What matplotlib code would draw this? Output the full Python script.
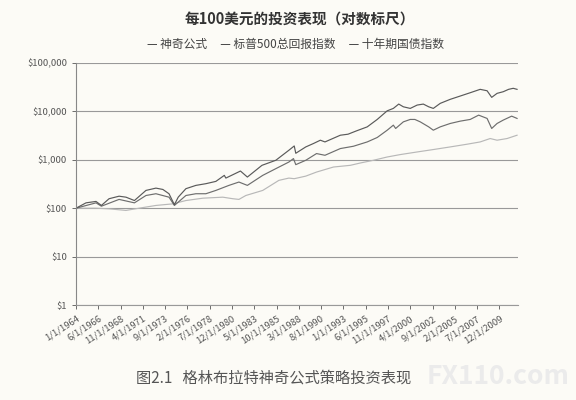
import matplotlib.pyplot as plt
import matplotlib.ticker as mticker
import numpy as np
import pandas as pd

plt.rcParams['font.family'] = ['Noto Sans CJK SC', 'DejaVu Sans']

# 数据 (读自原图, 每100美元的价值)
magic_dates = ["1964-01", "1965-02", "1966-03", "1966-10", "1967-08", "1968-09", "1969-06",
               "1970-05", "1970-10", "1971-08", "1972-09", "1973-06", "1974-02", "1974-09",
               "1975-02", "1975-12", "1977-01", "1978-02", "1979-03", "1980-02", "1980-04",
               "1981-11", "1982-08", "1984-03", "1985-09", "1987-02", "1987-09", "1987-11",
               "1988-12", "1989-10", "1990-07", "1991-01", "1992-09", "1993-07", "1994-06",
               "1995-08", "1996-09", "1997-10", "1998-06", "1999-01", "1999-07", "2000-04",
               "2001-01", "2001-09", "2002-04", "2002-10", "2003-07", "2004-08", "2005-09",
               "2006-10", "2007-11", "2008-08", "2009-02", "2009-09", "2010-05", "2010-12",
               "2011-06", "2011-11"]
magic_vals = [100, 129, 138, 114, 157, 177, 169,
              144, 169, 233, 260, 244, 199, 118,
              169, 253, 296, 321, 358, 477, 419,
              586, 440, 769, 977, 1574, 1932, 1364,
              1845, 2170, 2540, 2340, 3220, 3380, 3960,
              4790, 6820, 10280, 11530, 14170, 12450, 11530,
              13520, 14170, 12450, 11530, 14650, 17750, 20760,
              24300, 28560, 26700, 19500, 23600, 25500, 28560,
              30000, 28560]

sp_dates = ["1964-01", "1966-03", "1966-10", "1968-09", "1970-05", "1971-08", "1972-09",
            "1974-02", "1974-09", "1975-12", "1977-01", "1978-02", "1979-03", "1980-08",
            "1981-09", "1982-08", "1984-04", "1985-09", "1987-02", "1987-08", "1987-11",
            "1988-12", "1990-02", "1991-01", "1992-09", "1994-02", "1995-08", "1996-09",
            "1997-10", "1998-06", "1998-09", "1999-07", "2000-04", "2000-10", "2001-05",
            "2002-04", "2002-10", "2003-07", "2004-08", "2005-09", "2006-10", "2007-09",
            "2008-08", "2009-02", "2009-09", "2010-05", "2011-04", "2011-11"]
sp_vals = [100, 129, 110, 152, 129, 183, 199,
           169, 114, 183, 199, 199, 233, 296,
           347, 296, 477, 656, 899, 1059, 794,
           977, 1345, 1240, 1707, 1905, 2340, 2890,
           4090, 5200, 4440, 6080, 6820, 6820, 6080,
           4790, 4090, 4790, 5630, 6290, 6820, 8370,
           7160, 4440, 5630, 6610, 7980, 7160]

bond_dates = ["1964-01", "1966-03", "1967-08", "1969-06", "1970-11", "1972-09", "1974-07",
              "1975-12", "1977-10", "1979-12", "1981-01", "1981-09", "1982-06", "1984-04",
              "1986-01", "1987-02", "1987-09", "1988-12", "1990-02", "1991-12", "1993-10",
              "1994-11", "1996-04", "1997-10", "1999-03", "2001-01", "2002-10", "2004-08",
              "2006-06", "2007-11", "2008-12", "2009-09", "2010-10", "2011-11"]
bond_vals = [100, 100, 97, 90, 100, 114, 123,
             144, 161, 169, 157, 152, 183, 233,
             376, 419, 407, 460, 558, 709, 769,
             859, 977, 1143, 1282, 1452, 1629, 1845,
             2100, 2340, 2750, 2540, 2750, 3220]

tick_labels = ["1/1/1964", "6/1/1966", "11/1/1968", "4/1/1971", "9/1/1973", "2/1/1976",
               "7/1/1978", "12/1/1980", "5/1/1983", "10/1/1985", "3/1/1988", "8/1/1990",
               "1/1/1993", "6/1/1995", "11/1/1997", "4/1/2000", "9/1/2002", "2/1/2005",
               "7/1/2007", "12/1/2009"]
y_ticks = [1, 10, 100, 1000, 10000, 100000]


def month_index(dates):
    d = pd.to_datetime(dates)
    return (d.year - 1964) * 12 + (d.month - 1)


bg = '#fcfbf6'
fig = plt.figure(figsize=(5.76, 4.0), dpi=100, facecolor=bg)
ax = fig.add_axes([0.132, 0.2375, 0.767, 0.605], facecolor=bg)

ax.plot(month_index(bond_dates), bond_vals, color='#b8b8b8', lw=0.85)
ax.plot(month_index(sp_dates), sp_vals, color='#6e6e6e', lw=0.85)
ax.plot(month_index(magic_dates), magic_vals, color='#5a5a5a', lw=0.85)

ax.set_yscale('log')
ax.set_ylim(1, 100000)
ax.set_xlim(0, 575)
ax.set_yticks(y_ticks)
ax.yaxis.set_major_formatter(mticker.FuncFormatter(lambda v, p: f"${v:,.0f}"))
ax.yaxis.set_minor_locator(mticker.NullLocator())
for v in y_ticks:
    ax.axhline(v, color='#999999', lw=0.8, zorder=0)

tick_pos = month_index([pd.to_datetime(t).strftime("%Y-%m") for t in tick_labels])
ax.set_xticks(tick_pos)
ax.set_xticklabels(tick_labels, rotation=33, ha='right', rotation_mode='anchor')
ax.tick_params(axis='both', labelsize=6.8, colors='#555555', length=3, width=0.6)

for s in ['top', 'right']:
    ax.spines[s].set_visible(False)
ax.spines['left'].set_color('#888888')
ax.spines['bottom'].set_color('#999999')

fig.text(0.52, 0.952, "每100美元的投资表现（对数标尺）", ha='center', va='center',
         fontsize=10.5, color='#333333', fontweight='bold')
fig.text(0.513, 0.89, "— 神奇公式     — 标普500总回报指数     — 十年期国债指数",
         ha='center', va='center', fontsize=8.5, color='#444444')
fig.text(0.865, 0.058, "FX110.com", ha='center', va='center', fontsize=19,
         color='#ebebeb', fontweight='bold', zorder=0)
fig.text(0.236, 0.055, "图2.1   格林布拉特神奇公式策略投资表现", ha='left', va='center',
         fontsize=11, color='#555555')

fig.savefig("out.png", dpi=100, facecolor=bg)
